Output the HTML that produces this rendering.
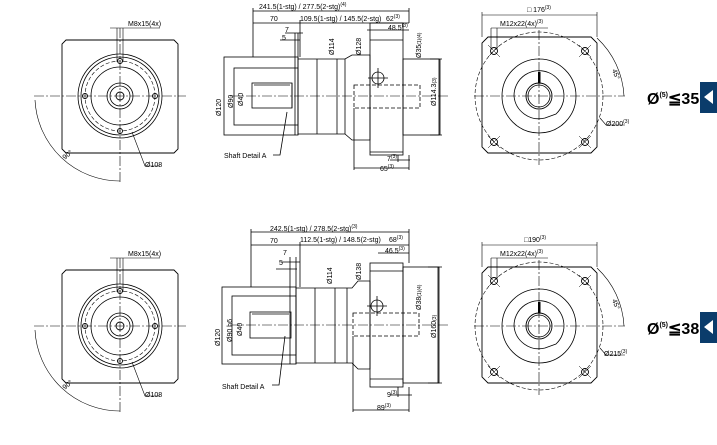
<!DOCTYPE html>
<html><head><meta charset="utf-8"><style>
html,body{margin:0;padding:0;background:#fff;}
svg{display:block;font-family:"Liberation Sans",sans-serif;}
text{font-size:7px;fill:#000;}
</style></head><body>
<svg width="717" height="445" viewBox="0 0 717 445" xmlns="http://www.w3.org/2000/svg">
<defs>
<g id="front">
  <path d="M66,40 H174 L178,44 V149 L174,153 H66 L62,149 V44 Z" fill="none" stroke="#000" stroke-width="0.9"/>
  <circle cx="120" cy="96" r="42" fill="none" stroke="#000" stroke-width="0.8"/>
  <circle cx="120" cy="96" r="39" fill="none" stroke="#000" stroke-width="0.8"/>
  <circle cx="120" cy="96" r="35" fill="none" stroke="#000" stroke-width="0.6" stroke-dasharray="4,2"/>
  <circle cx="120" cy="96" r="29" fill="none" stroke="#000" stroke-width="0.8"/>
  <circle cx="120" cy="96" r="13" fill="none" stroke="#000" stroke-width="0.8"/>
  <circle cx="120" cy="96" r="10" fill="none" stroke="#000" stroke-width="0.8"/>
  <circle cx="120" cy="96" r="4" fill="none" stroke="#000" stroke-width="0.9"/>
  <circle cx="120" cy="61" r="2.5" fill="none" stroke="#000" stroke-width="0.9"/>
  <circle cx="85" cy="96" r="2.5" fill="none" stroke="#000" stroke-width="0.9"/>
  <circle cx="155" cy="96" r="2.5" fill="none" stroke="#000" stroke-width="0.9"/>
  <circle cx="120" cy="131" r="2.5" fill="none" stroke="#000" stroke-width="0.9"/>
  <path d="M34,96 H186 M120,28 V182" stroke="#000" stroke-width="0.6" stroke-dasharray="10,2,2,2"/>
  <path d="M117,28 V62 M123,28 V62 M110,28 H160" stroke="#000" stroke-width="0.6" fill="none"/>
  <path d="M35,100 A85,85 0 0 0 120,181" fill="none" stroke="#000" stroke-width="0.6"/>
  <path d="M132,132 L145,166 H160" fill="none" stroke="#000" stroke-width="0.6"/>
  <text x="128" y="26">M8x15(4x)</text>
  <text x="145" y="167">Ø108</text>
  <text x="62" y="158" transform="rotate(-40 66 155)">90°</text>
</g>
<g id="rightv">
  <path d="M488,37 H591 L597,43 V147 L591,153 H488 L482,147 V43 Z" fill="none" stroke="#000" stroke-width="0.9"/>
  <circle cx="539" cy="96" r="64" fill="none" stroke="#000" stroke-width="0.6" stroke-dasharray="4,2"/>
  <circle cx="539" cy="96" r="37" fill="none" stroke="#000" stroke-width="0.8"/>
  <path d="M514,96 A25,25 0 1 1 556,114 L545,118 A25,25 0 0 1 514,96 Z" fill="none" stroke="#000" stroke-width="0.8"/>
  <circle cx="539" cy="96" r="13" fill="none" stroke="#000" stroke-width="0.9"/>
  <circle cx="539" cy="96" r="11" fill="none" stroke="#000" stroke-width="0.8"/>
  <rect x="538" y="72" width="2.5" height="11" fill="#000"/>
  <circle cx="494" cy="51" r="3.5" fill="none" stroke="#000" stroke-width="0.9"/>
  <circle cx="585" cy="51" r="3.5" fill="none" stroke="#000" stroke-width="0.9"/>
  <circle cx="494" cy="142" r="3.5" fill="none" stroke="#000" stroke-width="0.9"/>
  <circle cx="585" cy="142" r="3.5" fill="none" stroke="#000" stroke-width="0.9"/>
  <path d="M488,45 l12,12 M500,45 l-12,12 M579,45 l12,12 M591,45 l-12,12 M488,136 l12,12 M500,136 l-12,12 M579,136 l12,12 M591,136 l-12,12" stroke="#000" stroke-width="0.5"/>
  <path d="M474,96 H625 M539,30 V165" stroke="#000" stroke-width="0.6" stroke-dasharray="10,2,2,2"/>
  <path d="M482,12 V37 M597,12 V37 M482,15 H597" stroke="#000" stroke-width="0.6" fill="none"/>
  <path d="M491,28 V50 M497,28 V50 M491,28 H548" stroke="#000" stroke-width="0.6" fill="none"/>
  <path d="M597,38 A85,85 0 0 1 624,96" fill="none" stroke="#000" stroke-width="0.6"/>
  <path d="M600,118 L606,125 H625" fill="none" stroke="#000" stroke-width="0.6"/>
  <text x="500" y="26">M12x22(4x)<tspan font-size="5" dy="-3">(3)</tspan></text>
  <text x="612" y="70" transform="rotate(70 612 70)">45°</text>
  <rect x="700" y="82" width="17" height="31" fill="#0b3c6b"/>
  <path d="M704,97 L713,90 V104 Z" fill="#fff"/>
</g>
</defs>

<!-- TOP ROW -->
<use href="#front"/>
<use href="#rightv"/>
<text x="527" y="12" font-size="8">□ 176<tspan font-size="5" dy="-3">(3)</tspan></text>
<text x="606" y="126">Ø200<tspan font-size="5" dy="-3">(3)</tspan></text>
<text x="647" y="104" style="font-size:16px;font-weight:bold">Ø<tspan font-size="7" dy="-7">(5)</tspan><tspan dy="7">≦35</tspan></text>

<g stroke="#000" stroke-width="0.8" fill="none">
  <rect x="224" y="57" width="74" height="78"/>
  <rect x="234" y="68" width="64" height="57"/>
  <rect x="252" y="83" width="40" height="25"/>
  <path d="M254,85 H290"/>
  <path d="M295,33 V135 M298,33 V135 M292,83 V108"/>
  <path d="M298,59 H317 V134 H298 M317,59 H345 L352,55 H370 V140 H352 L345,134 H317"/>
  <path d="M337,59 V134 M345,59 V134"/>
  <rect x="370" y="23" width="33" height="132"/>
  <path d="M370,40 H403 M370,152 H403"/>
  <rect x="403" y="59" width="36" height="76"/>
  <rect x="354" y="85" width="66" height="23" stroke-dasharray="4,2"/>
  <circle cx="378" cy="78" r="6"/>
  <path d="M368,78 H388 M378,68 V88"/>
  <path d="M253,8 V57 M409,8 V23 M253,11 H409 M253,23 H409 M300,20 V57"/>
  <path d="M367,30 H409 M285,33 H303 M280,40 H300"/>
  <path d="M354,108 V170 M409,155 V170 M354,168 H409 M398,155 V162 M390,160 H410"/>
  <path d="M440,59 V135 M430,59 H442 M430,135 H442"/>
  <path d="M287,112 L280,155 H273"/>
</g>
<path d="M230,96 H450" stroke="#000" stroke-width="0.6" stroke-dasharray="10,2,2,2"/>
<text x="259" y="9">241.5(1-stg) / 277.5(2-stg)<tspan font-size="5" dy="-3">(4)</tspan></text>
<text x="270" y="21">70</text>
<text x="300" y="21">109.5(1-stg) / 145.5(2-stg)</text>
<text x="386" y="21">62<tspan font-size="5" dy="-3">(3)</tspan></text>
<text x="388" y="30">48.5<tspan font-size="5" dy="-3">(3)</tspan></text>
<text x="285" y="32" font-size="8">7</text>
<text x="282" y="40" font-size="8">5</text>
<text x="221" y="116" transform="rotate(-90 221 116)">Ø120</text>
<text x="233" y="108" transform="rotate(-90 233 108)">Ø90</text>
<text x="243" y="106" transform="rotate(-90 243 106)">Ø40</text>
<text x="334" y="55" transform="rotate(-90 334 55)">Ø114</text>
<text x="361" y="55" transform="rotate(-90 361 55)">Ø128</text>
<text x="421" y="58" transform="rotate(-90 421 58)">Ø35<tspan font-size="5">(1)(4)</tspan></text>
<text x="436" y="106" transform="rotate(-90 436 106)">Ø114.3<tspan font-size="5">(3)</tspan></text>
<text x="224" y="158">Shaft Detail  A</text>
<text x="387" y="161">7<tspan font-size="5" dy="-3">(3)</tspan></text>
<text x="380" y="171">65<tspan font-size="5" dy="-3">(3)</tspan></text>

<!-- BOTTOM ROW -->
<use href="#front" y="230"/>
<use href="#rightv" y="230"/>
<text x="524" y="242" font-size="8">□190<tspan font-size="5" dy="-3">(3)</tspan></text>
<text x="604" y="356">Ø215<tspan font-size="5" dy="-3">(3)</tspan></text>
<text x="647" y="334" style="font-size:16px;font-weight:bold">Ø<tspan font-size="7" dy="-7">(5)</tspan><tspan dy="7">≦38</tspan></text>

<g stroke="#000" stroke-width="0.8" fill="none">
  <rect x="222" y="287" width="74" height="77"/>
  <rect x="232" y="296" width="64" height="59"/>
  <rect x="250" y="312" width="41" height="26"/>
  <path d="M252,314 H289"/>
  <path d="M290,257 V364 M296,257 V364"/>
  <path d="M296,288 H315 V363 H296 M315,288 H352 L358,281 H370 V369 H358 L352,363 H315"/>
  <path d="M335,288 V363 M347,288 V363"/>
  <rect x="370" y="263" width="33" height="124"/>
  <path d="M370,271 H403 M370,379 H403"/>
  <rect x="403" y="267" width="36" height="116"/>
  <rect x="353" y="313" width="66" height="23" stroke-dasharray="4,2"/>
  <circle cx="377" cy="306" r="6"/>
  <path d="M367,306 H387 M377,296 V316"/>
  <path d="M251,229 V287 M409,229 V263 M251,232 H409 M251,245 H409 M300,242 V287"/>
  <path d="M378,253 H409 M281,262 H300 M276,269 H297"/>
  <path d="M353,336 V412 M409,387 V412 M353,410 H409 M398,387 V397 M390,395 H412"/>
  <path d="M438,267 V383 M428,267 H442 M428,383 H442"/>
  <path d="M285,336 L279,385 H272"/>
</g>
<path d="M230,325 H450" stroke="#000" stroke-width="0.6" stroke-dasharray="10,2,2,2"/>
<text x="270" y="231">242.5(1-stg) / 278.5(2-stg)<tspan font-size="5" dy="-3">(3)</tspan></text>
<text x="270" y="243">70</text>
<text x="300" y="242">112.5(1-stg) / 148.5(2-stg)</text>
<text x="389" y="242">68<tspan font-size="5" dy="-3">(3)</tspan></text>
<text x="385" y="253">46.5<tspan font-size="5" dy="-3">(3)</tspan></text>
<text x="283" y="255" font-size="8">7</text>
<text x="279" y="265" font-size="8">5</text>
<text x="220" y="346" transform="rotate(-90 220 346)">Ø120</text>
<text x="232" y="342" transform="rotate(-90 232 342)">Ø90 h6</text>
<text x="242" y="336" transform="rotate(-90 242 336)">Ø40</text>
<text x="332" y="284" transform="rotate(-90 332 284)">Ø114</text>
<text x="361" y="280" transform="rotate(-90 361 280)">Ø138</text>
<text x="421" y="310" transform="rotate(-90 421 310)">Ø38<tspan font-size="5">(1)(4)</tspan></text>
<text x="436" y="338" transform="rotate(-90 436 338)">Ø160<tspan font-size="5">(3)</tspan></text>
<text x="222" y="389">Shaft Detail  A</text>
<text x="387" y="397">9<tspan font-size="5" dy="-3">(3)</tspan></text>
<text x="377" y="410">89<tspan font-size="5" dy="-3">(3)</tspan></text>
</svg>
</body></html>
